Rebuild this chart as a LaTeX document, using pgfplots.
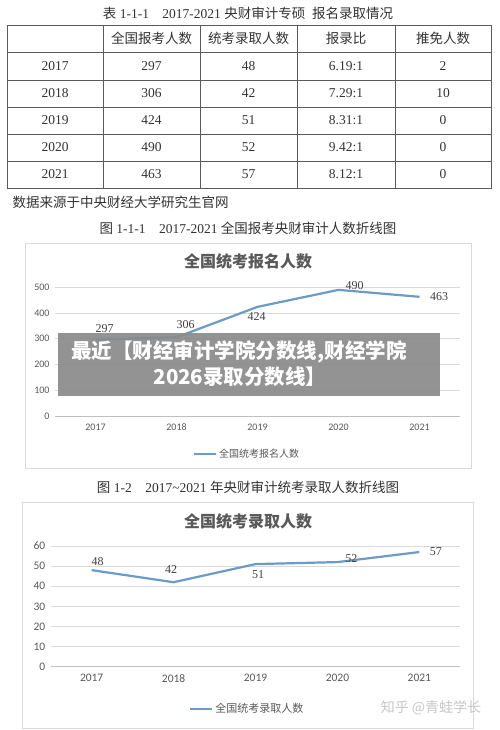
\documentclass[border=0pt]{standalone}
\usepackage{fontspec}
\setmainfont{Liberation Serif}
\newfontfamily\cjk{Noto Sans CJK SC}
\newfontfamily\carl{Carlito}
\usepackage{pgfplots}
\usepackage{pgfplotstable}
\pgfplotsset{compat=1.18}
\definecolor{linec}{HTML}{6A9BC9}
\definecolor{gridc}{HTML}{D9D9D9}
\definecolor{tickc}{HTML}{595959}
\definecolor{txt}{HTML}{333333}
\definecolor{tblline}{HTML}{5A5A5A}
\definecolor{lblc}{HTML}{404040}

\pgfplotstableread{
x y dx dy
0 297 9 11
1 306 9 13
2 424 -1 -10
3 490 16 4
4 463 19.5 0
}\tabA
\pgfplotstableread{
x y dx dy
0 48 6 9
1 42 -2.5 12.5
2 51 2.5 -10
3 52 14 3.4
4 57 16.5 0
}\tabB

\pgfplotsset{
  mychart/.style={
    scale only axis,
    xmin=-0.5, xmax=4.5, ymin=0,
    xtick={0,1,2,3,4},
    xticklabels={2017,2018,2019,2020,2021},
    axis x line*=bottom, axis y line*=left,
    x axis line style={-, draw=black!25, line width=0.8pt},
    y axis line style={draw=none},
    major tick length=0pt,
    ymajorgrids,
    grid style={gridc, line width=0.7pt},
    /pgf/number format/assume math mode=true,
    legend style={draw=none, fill=none, anchor=center, text=tickc},
    legend image code/.code={\draw[#1] (0pt,0pt) -- (22pt,0pt);},
    clip=false,
  },
  lbl/.style={draw=none, forget plot,
    nodes near coords,
    visualization depends on={\thisrow{dx}\as\dx},
    visualization depends on={\thisrow{dy}\as\dy},
    nodes near coords style={anchor=center, xshift=\dx pt, yshift=\dy pt,
      text=lblc, font=\fontsize{12}{14}\selectfont, inner sep=0pt},
  },
}

\begin{document}
\begin{tikzpicture}[x=1pt,y=1pt]
\useasboundingbox (0,0) rectangle (500,730);
\fill[white] (0,0) rectangle (500,730);

% ---------- table ----------
\node[font=\fontsize{13.5}{16}\selectfont, text=txt] at (248,717)
  {{\cjk 表} 1-1-1\quad 2017-2021 {\cjk 央财审计专硕\enspace 报名录取情况}};
\draw[tblline, line width=0.9pt] (7,542) rectangle (491,705);
\foreach \yy in {678,650,623,596,569} \draw[tblline, line width=0.7pt] (7,\yy) -- (491,\yy);
\foreach \xx in {103,200,297,395} \draw[tblline, line width=0.7pt] (\xx,542) -- (\xx,705);
\begin{scope}[every node/.style={font=\cjk\fontsize{13.5}{16}\selectfont, text=txt}]
\node at (151.5,691.5) {全国报考人数};
\node at (248.5,691.5) {统考录取人数};
\node at (346,691.5) {报录比};
\node at (443,691.5) {推免人数};
\end{scope}
\begin{scope}[every node/.style={font=\fontsize{13.5}{16}\selectfont, text=txt}]
\foreach \yy/\a/\b/\c/\d/\e in {664/2017/297/48/6.19:1/2, 636.5/2018/306/42/7.29:1/10, 609.5/2019/424/51/8.31:1/0, 582.5/2020/490/52/9.42:1/0, 555.5/2021/463/57/8.12:1/0}{
  \node at (55,\yy) {\a};
  \node at (151.5,\yy) {\b};
  \node at (248.5,\yy) {\c};
  \node at (346,\yy) {\d};
  \node at (443,\yy) {\e};
}
\end{scope}
\node[anchor=west, font=\cjk\fontsize{13.5}{16}\selectfont, text=txt] at (9,528) {数据来源于中央财经大学研究生官网};

% ---------- chart 1 ----------
\node[font=\fontsize{13.5}{16}\selectfont, text=txt] at (248,502)
  {{\cjk 图} 1-1-1\quad 2017-2021 {\cjk 全国报考央财审计人数折线图}};
\draw[black!15, line width=0.8pt] (25,262) rectangle (471,487);
\node[font=\cjk\bfseries\fontsize{16}{19}\selectfont, text=tickc] at (248,469) {全国统考报名人数};

\begin{axis}[mychart,
  at={(55pt,314pt)}, anchor=south west,
  width=405pt, height=128.7pt,
  ymax=500, ytick={0,100,...,500},
  ticklabel style={font=\carl\fontsize{10}{12}\selectfont, text=tickc},
  xticklabel style={yshift=-4pt},
  yticklabel style={xshift=-2pt},
  legend style={at={(0.474,-0.295)}, font=\cjk\fontsize{10}{12}\selectfont},
]
\addplot[linec, line width=2.2pt] table[x=x,y=y] {\tabA};
\addlegendentry{全国统考报名人数}
\addplot[lbl] table[x=x,y=y] {\tabA};
\end{axis}

% ---------- chart 2 ----------
\node[font=\fontsize{13.5}{16}\selectfont, text=txt] at (248,243)
  {{\cjk 图} 1-2\quad 2017\textasciitilde 2021 {\cjk 年央财审计统考录取人数折线图}};
\draw[black!15, line width=0.8pt] (22,2) rectangle (473,228);
\node[font=\cjk\bfseries\fontsize{16}{19}\selectfont, text=tickc] at (248,209) {全国统考录取人数};

\begin{axis}[mychart,
  at={(50.7pt,63.3pt)}, anchor=south west,
  width=409.6pt, height=120.7pt,
  ymax=60, ytick={0,10,...,60},
  ticklabel style={font=\carl\fontsize{11.5}{13}\selectfont, text=tickc},
  xticklabel style={yshift=-4pt},
  yticklabel style={xshift=-2pt},
  legend style={at={(0.48,-0.348)}, font=\cjk\fontsize{11}{13}\selectfont},
]
\addplot[linec, line width=2.2pt] table[x=x,y=y] {\tabB};
\addlegendentry{全国统考录取人数}
\addplot[lbl] table[x=x,y=y] {\tabB};
\end{axis}

\node[font=\cjk\fontsize{14}{16}\selectfont, text=black!22] at (431,22) {知乎 @青蛙学长};

% ---------- banner ----------
\fill[fill={rgb,255:red,138;green,138;blue,138}, fill opacity=0.92] (58,334) rectangle (440,397);
\node[font=\cjk\bfseries\fontsize{20.5}{24}\selectfont, text=white] at (239,378) {最近【财经审计学院分数线,财经学院};
\node[font=\cjk\bfseries\fontsize{20.5}{24}\selectfont, text=white] at (240,353) {2026录取分数线】};
\end{tikzpicture}
\end{document}
